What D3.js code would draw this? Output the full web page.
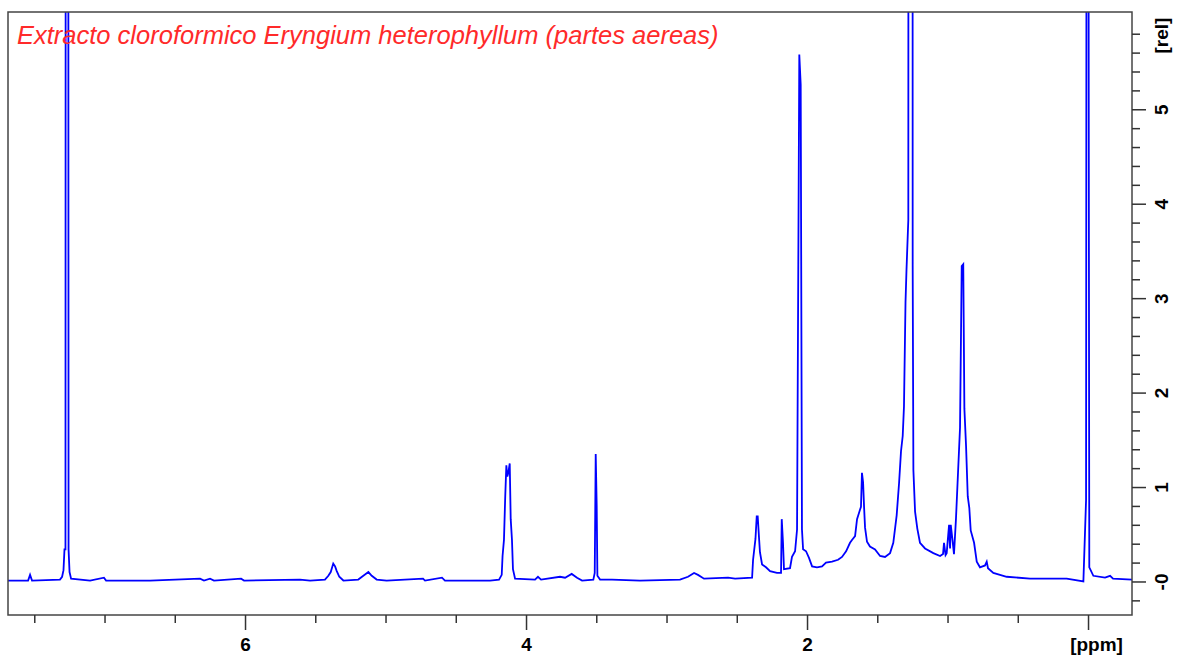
<!DOCTYPE html>
<html><head><meta charset="utf-8">
<script src="https://cdn.jsdelivr.net/npm/d3@7"></script>
<style>
html,body{margin:0;padding:0;background:#fff;}
svg{display:block;}
</style></head>
<body>
<svg id="chart" width="1177" height="660"></svg>
<script>
// ---- data (chemical shift in ppm, relative intensity) ----
const ppm = [
 7.687, 7.544, 7.530, 7.516, 7.317, 7.302, 7.292, 7.285, 7.278, 7.272, 7.263, 7.256, 7.249, 7.238,
 7.103, 7.004, 6.989, 6.676, 6.320, 6.292, 6.249, 6.221, 6.028, 6.007, 5.609, 5.537,
 5.431, 5.407, 5.390, 5.372, 5.359, 5.347, 5.329, 5.300,
 5.194, 5.158, 5.122, 5.098, 5.063, 4.992, 4.733, 4.719, 4.598, 4.577, 4.256,
 4.192, 4.173, 4.167, 4.157, 4.148, 4.140, 4.133, 4.126, 4.116, 4.109, 4.100, 4.093, 4.078,
 3.936, 3.915, 3.893, 3.758, 3.722, 3.675, 3.637, 3.601,
 3.521, 3.511, 3.504, 3.497, 3.492, 3.473, 3.388, 3.189,
 2.904, 2.847, 2.804, 2.776, 2.733, 2.562, 2.512, 2.391,
 2.384, 2.367, 2.358, 2.351, 2.342, 2.335, 2.320, 2.292, 2.263, 2.214, 2.185,
 2.180, 2.171, 2.164, 2.121, 2.107, 2.085, 2.071, 2.055, 2.045, 2.036, 2.028, 2.007,
 1.986, 1.964, 1.929, 1.893, 1.865, 1.822, 1.779, 1.751, 1.722, 1.694, 1.680, 1.658,
 1.644, 1.623, 1.616, 1.609, 1.601, 1.594, 1.587, 1.573, 1.552, 1.516, 1.480, 1.445,
 1.409, 1.386, 1.362, 1.345, 1.331, 1.319, 1.310, 1.299, 1.292, 1.279, 1.270, 1.256,
 1.248, 1.243, 1.231, 1.215, 1.196, 1.160, 1.101, 1.053, 1.032, 1.025, 1.014, 1.006,
 0.989, 0.982, 0.977, 0.966, 0.954, 0.940, 0.911, 0.899, 0.888, 0.880, 0.868, 0.856,
 0.845, 0.835, 0.811, 0.792, 0.769, 0.733, 0.721, 0.712, 0.674, 0.579, 0.413, 0.152,
 0.033, 0.014, 0.005, -0.005, -0.009, -0.038, -0.121, -0.157, -0.178, -0.313
];
const intensity = [
 0.01, 0.01, 0.07, 0.01, 0.02, 0.05, 0.12, 0.34, 0.34, 30.0, 30.0, 0.34, 0.10, 0.03,
 0.01, 0.04, 0.01, 0.01, 0.03, 0.01, 0.03, 0.01, 0.03, 0.01, 0.02, 0.01,
 0.02, 0.06, 0.10, 0.19, 0.16, 0.11, 0.05, 0.01,
 0.02, 0.06, 0.10, 0.06, 0.02, 0.01, 0.03, 0.01, 0.04, 0.01, 0.01,
 0.02, 0.07, 0.27, 0.44, 0.90, 1.23, 1.11, 1.15, 1.25, 0.66, 0.44, 0.13, 0.03,
 0.02, 0.05, 0.02, 0.05, 0.04, 0.08, 0.04, 0.01,
 0.02, 0.09, 1.35, 0.80, 0.06, 0.02, 0.02, 0.01,
 0.02, 0.05, 0.09, 0.07, 0.03, 0.04, 0.03, 0.04,
 0.23, 0.45, 0.69, 0.69, 0.47, 0.31, 0.18, 0.15, 0.11, 0.09, 0.09,
 0.66, 0.41, 0.13, 0.14, 0.26, 0.32, 0.55, 5.58, 5.26, 0.55, 0.34, 0.32,
 0.25, 0.16, 0.15, 0.16, 0.20, 0.21, 0.23, 0.26, 0.32, 0.41, 0.44, 0.48,
 0.66, 0.76, 0.79, 1.15, 1.05, 0.79, 0.57, 0.42, 0.37, 0.34, 0.27, 0.26,
 0.30, 0.41, 0.70, 1.04, 1.38, 1.54, 1.85, 2.96, 3.30, 3.83, 60.0, 60.0,
 3.34, 1.18, 0.74, 0.56, 0.41, 0.35, 0.30, 0.27, 0.29, 0.41, 0.28, 0.30,
 0.60, 0.35, 0.60, 0.46, 0.29, 0.66, 1.63, 3.34, 3.36, 1.83, 1.43, 0.90,
 0.78, 0.54, 0.41, 0.21, 0.15, 0.17, 0.21, 0.14, 0.09, 0.05, 0.03, 0.03,
 0.00, 0.86, 20.0, 5.16, 0.15, 0.06, 0.04, 0.06, 0.03, 0.02
];
const xMajorTicks = [6, 4, 2, 0];
const xMajorLabels = ["6", "4", "2", "[ppm]"];
const xMinorTicks = [7.5, 7, 6.5, 5.5, 5, 4.5, 3.5, 3, 2.5, 1.5, 1, 0.5];
const yMajorTicks = [0, 1, 2, 3, 4, 5];
const yMajorLabels = ["-0", "1", "2", "3", "4", "5"];
const yMinorTicks = [-0.2, 0.2, 0.4, 0.6, 0.8, 1.2, 1.4, 1.6, 1.8, 2.2, 2.4, 2.6, 2.8,
  3.2, 3.4, 3.6, 3.8, 4.2, 4.4, 4.6, 4.8, 5.2, 5.4, 5.6, 5.8];
const titleText = "Extracto cloroformico Eryngium heterophyllum (partes aereas)";
const yUnitLabel = "[rel]";

// ---- layout ----
const L = 8, R = 1132, T = 12, B = 615;
const svg = d3.select("#chart");
const x = d3.scaleLinear().domain([7.687, -0.313]).range([L, R]);
const y = d3.scaleLinear().domain([-0.355, 6.03]).range([B, T]);
const font = "'Liberation Sans', Arial, sans-serif";

svg.append("defs").append("clipPath").attr("id", "clip")
  .append("rect").attr("x", L).attr("y", T).attr("width", R - L).attr("height", B - T);

const data = ppm.map((p, i) => [p, intensity[i]]);
svg.append("path")
  .datum(data)
  .attr("clip-path", "url(#clip)")
  .attr("fill", "none")
  .attr("stroke", "#0000ff")
  .attr("stroke-width", 1.8)
  .attr("stroke-linejoin", "miter")
  .attr("d", d3.line().x(d => x(d[0])).y(d => y(d[1])));

// frame
svg.append("rect").attr("x", L).attr("y", T).attr("width", R - L).attr("height", B - T)
  .attr("fill", "none").attr("stroke", "#444").attr("stroke-width", 1.5);

// x axis
const gxMinor = svg.append("g").attr("transform", `translate(0,${B})`)
  .call(d3.axisBottom(x).tickValues(xMinorTicks).tickSize(8).tickFormat(""));
const gxMajor = svg.append("g").attr("transform", `translate(0,${B})`)
  .call(d3.axisBottom(x).tickValues(xMajorTicks).tickSize(15).tickPadding(8)
    .tickFormat((d, i) => xMajorLabels[i]));
[gxMinor, gxMajor].forEach(g => {
  g.select(".domain").remove();
  g.selectAll(".tick line").attr("stroke", "#333").attr("stroke-width", 1.5);
});
gxMajor.selectAll(".tick text")
  .attr("font-family", font).attr("font-weight", "bold").attr("font-size", 19)
  .attr("fill", "#000")
  .attr("x", (d, i) => xMajorLabels[i].length > 1 ? 8 : 0);

// y axis (right)
const gyMinor = svg.append("g").attr("transform", `translate(${R},0)`)
  .call(d3.axisRight(y).tickValues(yMinorTicks).tickSize(8).tickFormat(""));
const gyMajor = svg.append("g").attr("transform", `translate(${R},0)`)
  .call(d3.axisRight(y).tickValues(yMajorTicks).tickSize(14).tickFormat((d, i) => yMajorLabels[i]));
[gyMinor, gyMajor].forEach(g => {
  g.select(".domain").remove();
  g.selectAll(".tick line").attr("stroke", "#333").attr("stroke-width", 1.5);
});
gyMajor.selectAll(".tick text")
  .attr("font-family", font).attr("font-weight", "bold").attr("font-size", 19)
  .attr("fill", "#000")
  .attr("x", null).attr("dy", null)
  .attr("text-anchor", "middle")
  .attr("transform", "translate(36,0) rotate(-90)");

svg.append("text")
  .attr("transform", `translate(${R + 36},${y(5.78)}) rotate(-90)`)
  .attr("text-anchor", "middle")
  .attr("font-family", font).attr("font-weight", "bold").attr("font-size", 19)
  .text(yUnitLabel);

// title
svg.append("text")
  .attr("x", 17).attr("y", 44)
  .attr("font-family", font).attr("font-style", "italic").attr("font-size", 25.5)
  .attr("fill", "#ff2a2a")
  .text(titleText);
</script>
</body></html>
